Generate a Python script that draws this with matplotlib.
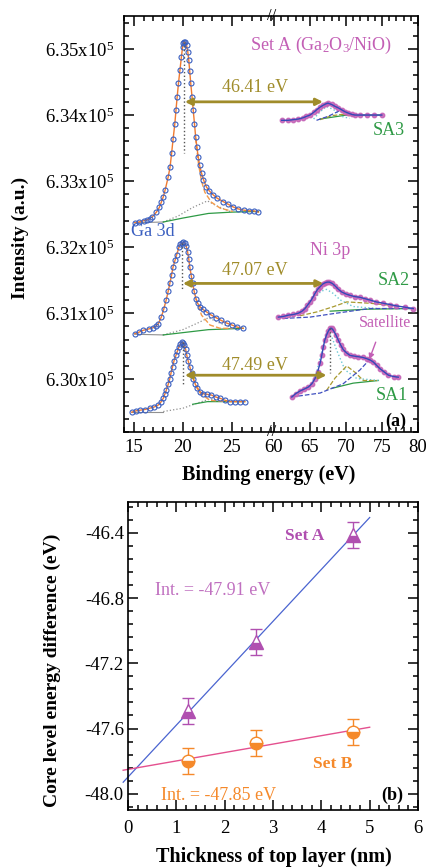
import numpy as np
import matplotlib
matplotlib.use('Agg')
import matplotlib.pyplot as plt
from matplotlib.ticker import MultipleLocator, FuncFormatter

plt.rcParams['font.family'] = ['Liberation Serif', 'DejaVu Serif']
plt.rcParams['mathtext.fontset'] = 'custom'
plt.rcParams['mathtext.rm'] = 'Liberation Serif'
plt.rcParams['mathtext.it'] = 'Liberation Serif:italic'
plt.rcParams['mathtext.bf'] = 'Liberation Serif:bold'
plt.rcParams['axes.unicode_minus'] = False

# ---- panel (a): Ga 3d spectra (binding energy eV, intensity in 1e5 counts)
ga_sa3_x = [15.1, 15.5, 16.0, 16.3, 16.6, 16.9, 17.3, 17.6, 17.8, 18.0, 18.2, 18.5, 18.7, 18.85, 19.0,
            19.18, 19.3, 19.42, 19.55, 19.7, 19.85, 19.97, 20.05, 20.13, 20.25, 20.37, 20.5, 20.6, 20.7,
            20.8, 20.93, 21.05, 21.18, 21.3, 21.43, 21.56, 21.7, 21.9, 22.1, 22.4, 22.7, 23.1, 23.5,
            24.1, 24.6, 25.1, 25.6, 26.2, 26.7, 27.2, 27.7]
ga_sa3_y = [6.3237, 6.3238, 6.3240, 6.3241, 6.3243, 6.3246, 6.3253, 6.3260, 6.3268, 6.3276, 6.3287,
            6.3306, 6.3322, 6.3342, 6.3363, 6.3387, 6.3408, 6.3428, 6.3448, 6.3468, 6.3488, 6.3503,
            6.3509, 6.3511, 6.3510, 6.3506, 6.3496, 6.3483, 6.3466, 6.3448, 6.3428, 6.3408, 6.3387,
            6.3367, 6.3351, 6.3337, 6.3324, 6.3312, 6.3302, 6.3291, 6.3285, 6.3279, 6.3274, 6.3269,
            6.3265, 6.3261, 6.3258, 6.3256, 6.3255, 6.3255, 6.3253]

ga_sa2_x = [15.1, 15.5, 15.95, 16.5, 16.97, 17.3, 17.5, 17.8, 18.05, 18.3, 18.5, 18.67, 18.85, 19.0,
            19.2, 19.36, 19.6, 19.75, 19.9, 20.05, 20.2, 20.35, 20.48, 20.6, 20.7, 20.85, 20.99, 21.15,
            21.33, 21.5, 21.73, 22.0, 22.4, 22.9, 23.4, 23.9, 24.46, 25.0, 25.5, 26.15]
ga_sa2_y = [6.3069, 6.3071, 6.3074, 6.3076, 6.3078, 6.3081, 6.3084, 6.3094, 6.3106, 6.3120, 6.3133,
            6.3145, 6.3158, 6.3170, 6.3180, 6.3188, 6.3200, 6.3204, 6.3206, 6.3207, 6.3206, 6.3201,
            6.3193, 6.3182, 6.3170, 6.3157, 6.3145, 6.3133, 6.3122, 6.3115, 6.3110, 6.3106, 6.3102,
            6.3097, 6.3093, 6.3089, 6.3085, 6.3082, 6.3079, 6.3077]

ga_sa1_x = [14.77, 15.2, 15.6, 16.1, 16.6, 17.1, 17.5, 17.8, 18.0, 18.15, 18.3, 18.5, 18.67, 18.8,
            18.95, 19.1, 19.29, 19.45, 19.6, 19.75, 19.9, 20.03, 20.16, 20.28, 20.4, 20.55, 20.7, 20.88,
            21.05, 21.25, 21.46, 21.75, 22.07, 22.5, 22.9, 23.35, 23.8, 24.3, 24.8, 25.3, 25.8, 26.3]
ga_sa1_y = [6.2950, 6.2952, 6.2953, 6.2954, 6.2956, 6.2958, 6.2961, 6.2966, 6.2971, 6.2977, 6.2983,
            6.2992, 6.3001, 6.3010, 6.3019, 6.3028, 6.3036, 6.3043, 6.3049, 6.3053, 6.3056, 6.3055,
            6.3052, 6.3045, 6.3036, 6.3027, 6.3019, 6.3009, 6.3001, 6.2993, 6.2986, 6.2981, 6.2978,
            6.2977, 6.2976, 6.2973, 6.2971, 6.2968, 6.2966, 6.2966, 6.2966, 6.2966]

# Ga 3d fit components: main-peak tail, second component, background
ga_main_tail = [
    [[21.3, 21.6, 21.9, 22.24, 22.9, 23.8, 25.1], [6.3365, 6.3325, 6.3300, 6.3283, 6.3268, 6.3259, 6.3254]],
    [[21.33, 21.9, 22.76, 23.8, 25.1], [6.3122, 6.3097, 6.3082, 6.3077, 6.3077]],
    [[21.05, 21.8, 22.76, 24.46], [6.3001, 6.2978, 6.2968, 6.2966]],
]
ga_base_left = [
    [[15.1, 18.0], [6.3237, 6.3238]],
    [[15.1, 18.0], [6.3068, 6.3067]],
    [[14.77, 18.0], [6.2951, 6.2951]],
]
ga_second = [
    [[18.0, 19.5, 21.0, 22.5, 23.5, 24.8], [6.3238, 6.3247, 6.3260, 6.3270, 6.3262, 6.3254]],
    [[18.0, 20.0, 21.5, 22.6, 23.6, 24.8], [6.3067, 6.3075, 6.3085, 6.3093, 6.3086, 6.3079]],
    [[18.0, 20.0, 21.9, 22.8, 24.0], [6.2951, 6.2956, 6.2966, 6.2970, 6.2967]],
]
ga_bg = [
    [[18.0, 20.0, 22.6, 25.0, 27.7], [6.3238, 6.3244, 6.3251, 6.3253, 6.3254]],
    [[18.0, 22.6, 26.15], [6.3067, 6.3075, 6.3077]],
    [[21.0, 22.5, 26.3], [6.2962, 6.2966, 6.2966]],
]
ga_peak_line = [[20.13, 6.3511, 6.3342], [19.9, 6.3206, 6.3135], [19.97, 6.3056, 6.2991]]

# ---- Ni 3p spectra
ni_sa3_x = [61.07, 61.9, 62.7, 63.4, 64.07, 64.5, 65.0, 65.5, 65.93, 66.4, 66.85, 67.2, 67.5, 68.0,
            68.5, 68.9, 69.4, 69.85, 70.3, 70.8, 71.25, 72.0, 72.9, 73.9, 74.96]
ni_sa3_y = [6.3392, 6.3392, 6.3393, 6.3394, 6.3396, 6.3398, 6.3400, 6.3404, 6.3408, 6.3412, 6.3415,
            6.3417, 6.3418, 6.3416, 6.3413, 6.3411, 6.3408, 6.3405, 6.3403, 6.3401, 6.3400, 6.3400,
            6.3400, 6.3400, 6.3400]

ni_sa2_x = [60.6, 61.3, 62.0, 62.7, 63.4, 63.9, 64.3, 64.65, 65.0, 65.35, 65.7, 66.05, 66.4, 66.75,
            67.08, 67.4, 67.7, 68.1, 68.5, 68.95, 69.4, 70.0, 70.55, 71.25, 71.94, 72.6, 73.3, 74.2,
            75.2, 76.1, 77.0, 78.2, 79.35]
ni_sa2_y = [6.3094, 6.3095, 6.3097, 6.3098, 6.3100, 6.3103, 6.3107, 6.3112, 6.3117, 6.3123, 6.3130,
            6.3136, 6.3140, 6.3144, 6.3146, 6.3147, 6.3147, 6.3145, 6.3141, 6.3136, 6.3132, 6.3129,
            6.3127, 6.3125, 6.3124, 6.3122, 6.3120, 6.3117, 6.3115, 6.3113, 6.3111, 6.3109, 6.3107]

ni_sa1_x = [62.46, 63.0, 63.6, 64.2, 64.76, 65.25, 65.7, 66.05, 66.4, 66.65, 66.85, 67.05, 67.3, 67.55,
            67.8, 68.0, 68.24, 68.6, 68.93, 69.25, 69.6, 70.05, 70.55, 71.1, 71.7, 72.3, 72.9, 73.35,
            73.8, 74.25, 74.7, 75.3, 75.9, 76.6, 77.26]
ni_sa1_y = [6.2973, 6.2978, 6.2982, 6.2985, 6.2988, 6.2993, 6.3001, 6.3011, 6.3024, 6.3037, 6.3049,
            6.3059, 6.3067, 6.3073, 6.3077, 6.3077, 6.3074, 6.3067, 6.3059, 6.3052, 6.3045, 6.3040,
            6.3036, 6.3035, 6.3034, 6.3033, 6.3031, 6.3029, 6.3026, 6.3021, 6.3016, 6.3011, 6.3006,
            6.3004, 6.3003]

ni_main = [
    [[65.5, 66.4, 67.3, 68.3, 69.4, 70.5], [6.3394, 6.3405, 6.3413, 6.3408, 6.3398, 6.3395]],
    [[64.07, 65.5, 66.5, 67.3, 68.2, 69.2, 71.0, 74.3], [6.3100, 6.3120, 6.3133, 6.3136, 6.3130, 6.3120, 6.3110, 6.3107]],
    [[65.0, 65.9, 66.7, 67.5, 68.1, 68.7, 69.86, 71.5, 74.7], [6.2987, 6.3010, 6.3045, 6.3072, 6.3062, 6.3044, 6.3014, 6.3001, 6.2998]],
]
ni_sat1 = [
    [[66.4, 68.0, 69.5, 71.0], [6.3393, 6.3399, 6.3401, 6.3398]],
    [[63.6, 66.0, 68.3, 70.1, 73.3, 77.0], [6.3096, 6.3102, 6.3110, 6.3117, 6.3115, 6.3111]],
    [[67.3, 68.5, 70.1, 71.3, 72.4, 74.3], [6.2983, 6.3002, 6.3020, 6.3010, 6.2998, 6.2998]],
]
ni_sat2 = [
    [[65.9, 67.5, 69.2, 71.0], [6.3392, 6.3398, 6.3407, 6.3401]],
    [[61.3, 65.0, 68.7, 73.3, 79.35], [6.3092, 6.3094, 6.3100, 6.3107, 6.3107]],
    [[62.46, 66.4, 69.6, 71.94, 73.3, 74.7, 75.9], [6.2973, 6.2979, 6.2993, 6.3014, 6.3030, 6.3016, 6.3006]],
]
ni_bg = [
    [[66.4, 70.1, 75.0], [6.3394, 6.3400, 6.3400]],
    [[67.8, 73.0, 79.35], [6.3103, 6.3106, 6.3107]],
    [[68.0, 71.0, 74.5], [6.2986, 6.2994, 6.2998]],
]

# energy separations (arrow level, Ga end, Ni end, label)
sep_labels = ['46.41 eV', '47.07 eV', '47.49 eV']
sep_y = [6.3420, 6.3145, 6.3006]
sep_ga_x = [20.2, 20.0, 20.2]
sep_ni_x = [66.8, 66.85, 67.3]
sep_text_y = [6.3442, 6.3165, 6.3021]
sample_names = ['SA3', 'SA2', 'SA1']
sample_y = [6.3377, 6.3150, 6.2976]
sample_x = [76.0, 76.7, 76.4]

# ---- panel (b)
thickness = [1.25, 2.65, 4.65]
set_a = [-47.49, -47.07, -46.41]
set_a_err = [0.08, 0.08, 0.08]
set_b = [-47.80, -47.69, -47.62]
set_b_err = [0.08, 0.08, 0.08]

blue_ga = '#3a5fc0'
mag = '#c35fb5'
olive = '#a08c2a'
green = '#2e9a45'
orange = '#f39a4a'

fig = plt.figure(figsize=(4.27, 8.67), dpi=100)
ax1 = fig.add_axes([124 / 427, 1 - 432 / 867, 147.5 / 427, 416 / 867])
ax2 = fig.add_axes([271.5 / 427, 1 - 432 / 867, 146.5 / 427, 416 / 867])
ax3 = fig.add_axes([128 / 427, 1 - 810 / 867, 290 / 427, 308 / 867])
for a in (ax1, ax2):
    a.set_facecolor('none')

ga_x = [ga_sa3_x, ga_sa2_x, ga_sa1_x]
ga_y = [ga_sa3_y, ga_sa2_y, ga_sa1_y]
ni_x = [ni_sa3_x, ni_sa2_x, ni_sa1_x]
ni_y = [ni_sa3_y, ni_sa2_y, ni_sa1_y]

for i in range(3):
    ax1.plot(ga_base_left[i][0], ga_base_left[i][1], color='#909090', lw=0.8)
    ax1.plot(ga_second[i][0], ga_second[i][1], color='#909090', lw=0.9, ls=':')
    ax1.plot(ga_bg[i][0], ga_bg[i][1], color=green, lw=0.9)
    ax1.plot(ga_main_tail[i][0], ga_main_tail[i][1], color=orange, lw=1.0, ls='--')
    ax1.plot(ga_x[i], ga_y[i], color='#f07a30', lw=1.0)
    ax1.plot(ga_x[i], ga_y[i], 'o', mfc='none', mec=blue_ga, ms=3.6, mew=0.8)
    px, y0, y1 = ga_peak_line[i]
    ax1.plot([px, px], [y0, y1], color='#555555', lw=1.0, ls=':')

    ax2.plot(ni_bg[i][0], ni_bg[i][1], color=green, lw=0.9)
    ax2.plot(ni_main[i][0], ni_main[i][1], color='#6cc8d4', lw=1.0, ls=':')
    ax2.plot(ni_sat1[i][0], ni_sat1[i][1], color='#a89a30', lw=0.9, ls='--')
    ax2.plot(ni_sat2[i][0], ni_sat2[i][1], color='#4050c0', lw=0.9, ls='--')
    ax2.plot(ni_x[i], ni_y[i], 'o', color=mag, ms=3.2, alpha=0.85)
    ax2.plot(ni_x[i], ni_y[i], color='#3548b8', lw=1.0)

    ax2.annotate('', xy=(sep_ni_x[i], sep_y[i]), xycoords='data',
                 xytext=(sep_ga_x[i], sep_y[i]), textcoords=ax1.transData,
                 arrowprops=dict(arrowstyle='<|-|>', color=olive, lw=2, mutation_scale=10,
                                 shrinkA=0, shrinkB=0))
    ax1.text(27.35, sep_text_y[i], sep_labels[i], color=olive, fontsize=13, ha='center', va='center')
    ax2.text(sample_x[i], sample_y[i], sample_names[i], color=green, fontsize=13, ha='center', va='center')

ax2.plot([67.8, 67.8], [6.3077, 6.3009], color='#555555', lw=1.0, ls=':')

ax1.text(16.94, 6.3224, 'Ga 3d', color=blue_ga, fontsize=13, ha='center', va='center')
ax2.text(66.5, 6.3506, 'Set A (Ga$_2$O$_3$/NiO)', color=mag, fontsize=13, ha='center', va='center')
ax2.text(67.8, 6.3195, 'Ni 3p', color=mag, fontsize=13, ha='center', va='center')
ax2.text(75.4, 6.3085, 'Satellite', color=mag, fontsize=11.5, ha='center', va='center')
ax2.annotate('', xy=(73.1, 6.3026), xytext=(74.26, 6.3060),
             arrowprops=dict(arrowstyle='-|>', color=mag, lw=1.0, mutation_scale=8))
ax2.text(76.9, 6.2936, '(a)', fontsize=13, fontweight='bold', ha='center', va='center')

ylo, yhi = 6.292, 6.355
ax1.set_ylim(ylo, yhi)
ax2.set_ylim(ylo, yhi)
ax1.set_xlim(14.0, 29.03)
ax2.set_xlim(59.65, 80.0)
for a in (ax1, ax2):
    a.xaxis.set_major_locator(MultipleLocator(5))
    a.xaxis.set_minor_locator(MultipleLocator(1))
    a.yaxis.set_major_locator(MultipleLocator(0.01))
    a.yaxis.set_minor_locator(MultipleLocator(0.002))
    a.tick_params(which='both', direction='in', top=True, width=1.1, labelsize=13.5)
    a.tick_params(which='major', length=7)
    a.tick_params(which='minor', length=3.5)
    a.tick_params(axis='x', pad=5)
    for s in a.spines.values():
        s.set_linewidth(1.2)
ax1.spines['right'].set_visible(False)
ax2.spines['left'].set_visible(False)
ax1.tick_params(axis='y', which='both', right=False, pad=7)
ax2.tick_params(axis='y', which='both', left=False, right=True, labelleft=False)
ax1.yaxis.set_major_formatter(FuncFormatter(lambda v, p: f'{v:.2f}x10$^5$'))
ax1.text(1.0, 1.0, '//', transform=ax1.transAxes, ha='center', va='center', fontsize=12, clip_on=False)
ax1.text(1.0, 0.0, '//', transform=ax1.transAxes, ha='center', va='center', fontsize=12, clip_on=False)

fig.text(20 / 427, 1 - 238 / 867, 'Intensity (a.u.)', rotation=90, ha='center', va='center',
         fontsize=14, fontweight='bold')
fig.text(269 / 427, 1 - 475 / 867, 'Binding energy (eV)', ha='center', va='center',
         fontsize=14.5, fontweight='bold')

# ---- panel (b)
ka = np.polyfit(thickness, set_a, 1)
kb = np.polyfit(thickness, set_b, 1)
xfit = np.array([-0.1, 5.0])
ax3.plot(xfit, np.polyval(ka, xfit), color='#4a64d0', lw=0.9, clip_on=False)
ax3.plot(xfit, np.polyval(kb, xfit), color='#e4508f', lw=1.0, clip_on=False)
ax3.errorbar(thickness, set_a, yerr=set_a_err, fmt='^', color='#b04fb0', ms=10,
             fillstyle='bottom', markerfacecoloralt='white', mew=1.0, capsize=4, elinewidth=1.0)
ax3.errorbar(thickness, set_b, yerr=set_b_err, fmt='o', color='#f5892a', ms=9,
             fillstyle='bottom', markerfacecoloralt='white', mew=1.0, capsize=4, elinewidth=1.0)

ax3.text(3.66, -46.42, 'Set A', color='#b04fb0', fontsize=12.5, fontweight='bold', ha='center', va='center')
ax3.text(1.76, -46.75, 'Int. = -47.91 eV', color='#c070c0', fontsize=13, ha='center', va='center')
ax3.text(4.24, -47.82, 'Set B', color='#f5892a', fontsize=12.5, fontweight='bold', ha='center', va='center')
ax3.text(1.87, -48.01, 'Int. = -47.85 eV', color='#f5892a', fontsize=13, ha='center', va='center')
ax3.text(5.46, -48.01, '(b)', fontsize=13, fontweight='bold', ha='center', va='center')

ax3.set_xlim(0, 6)
ax3.set_ylim(-48.1, -46.21)
ax3.xaxis.set_major_locator(MultipleLocator(1))
ax3.xaxis.set_minor_locator(MultipleLocator(0.2))
ax3.yaxis.set_major_locator(MultipleLocator(0.4))
ax3.yaxis.set_minor_locator(MultipleLocator(0.08))
ax3.yaxis.set_major_formatter(FuncFormatter(lambda v, p: f'{v:.1f}'))
ax3.tick_params(which='both', direction='in', top=True, right=True, width=1.1, labelsize=13.5)
ax3.tick_params(which='major', length=7)
ax3.tick_params(which='minor', length=3.5)
ax3.tick_params(axis='x', pad=7)
ax3.tick_params(axis='y', pad=3)
for s in ax3.spines.values():
    s.set_linewidth(1.2)

fig.text(52 / 427, 1 - 670 / 867, 'Core level energy difference (eV)', rotation=90, ha='center',
         va='center', fontsize=14, fontweight='bold')
fig.text(274 / 427, 1 - 857 / 867, 'Thickness of top layer (nm)', ha='center', va='center',
         fontsize=14.5, fontweight='bold')

fig.savefig('out.png', dpi=100)
